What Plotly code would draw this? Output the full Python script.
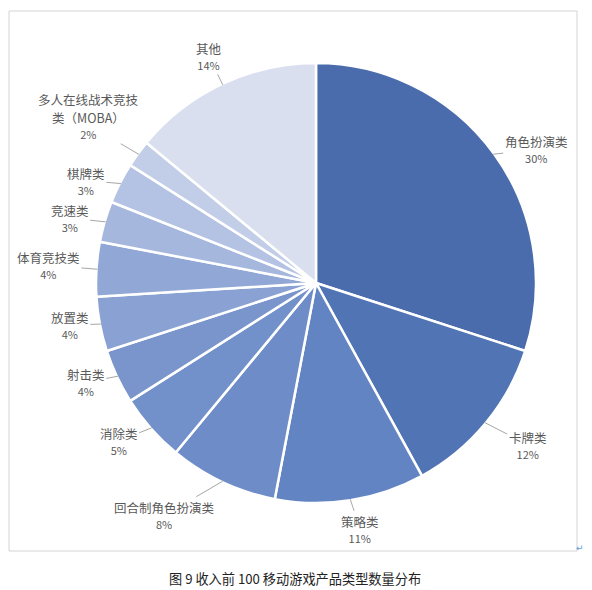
import math
import plotly.graph_objects as go

# ---- data ----
categories = ["角色扮演类", "卡牌类", "策略类", "回合制角色扮演类", "消除类", "射击类",
              "放置类", "体育竞技类", "竞速类", "棋牌类", "多人在线战术竞技<br>类（MOBA）", "其他"]
values = [30, 12, 11, 8, 5, 4, 4, 4, 3, 3, 2, 14]
caption = "图 9 收入前 100 移动游戏产品类型数量分布"

# ---- style ----
colors = ["#4a6bac", "#5174b4", "#6384c2", "#6e8dc8", "#7290c9", "#7995cc",
          "#8aa2d3", "#91a8d6", "#a6b7de", "#b4c2e3", "#c2cde8", "#d9dfef"]
# label offsets (pixels, from slice edge to text centre)
label_dx = [43, 43, 10, -58, -33, -32, -31, -49, -36, -35, -50, -14]
label_dy = [-5, 22, 30, 34, 13, 6, 1, -4, -4, -3, -29, -29]

W, H = 592, 590
OFF = 8  # page body margin
CX, CY, R = 316, 283, 220
LABEL_FONT = dict(family="Noto Sans CJK SC", size=12.5, color="#595959")


def px(x):
    return (x - OFF) / W


def py(y):
    return 1 - (y - OFF) / H


fig = go.Figure()
fig.add_trace(go.Pie(
    labels=categories, values=values, sort=False, direction="clockwise", rotation=0,
    marker=dict(colors=colors, line=dict(color="white", width=2.5)),
    textinfo="none", hoverinfo="label+percent", showlegend=False,
    domain=dict(x=[px(CX - R), px(CX + R)], y=[py(CY + R), py(CY - R)]),
))

total = sum(values)
cum = 0
for i, (cat, v) in enumerate(zip(categories, values)):
    mid = (cum + v / 2) / total * 2 * math.pi
    cum += v
    tip_x = CX + (R - 1) * math.sin(mid)
    tip_y = CY - (R - 1) * math.cos(mid)
    pct = round(v / total * 100)
    parts = cat.split("<br>")
    head, last = parts[:-1], parts[-1]
    fig.add_annotation(
        x=px(tip_x), y=py(tip_y), xref="paper", yref="paper",
        ax=label_dx[i], ay=label_dy[i], axref="pixel", ayref="pixel",
        text=f"{last}<br><span style='font-size:11px'>{pct}%</span>",
        showarrow=True, arrowhead=0, arrowwidth=1, arrowcolor="#a6a6a6",
        font=LABEL_FONT, align="center",
    )
    for k, h in enumerate(reversed(head)):
        fig.add_annotation(
            x=px(tip_x + label_dx[i]), y=py(tip_y + label_dy[i] - 26 - 18 * k),
            xref="paper", yref="paper", xanchor="center", yanchor="middle",
            text=h, showarrow=False, font=LABEL_FONT,
        )

# frame
fig.add_shape(type="rect", xref="paper", yref="paper",
              x0=px(9), x1=px(577), y0=py(551), y1=py(11),
              line=dict(color="#d4d4d4", width=1), layer="below")

fig.add_annotation(x=px(295), y=py(578), xref="paper", yref="paper",
                   xanchor="center", yanchor="middle",
                   text=caption, showarrow=False,
                   font=dict(family="Noto Sans CJK SC", size=13.2, color="#222222"))
fig.add_annotation(x=px(580), y=py(548), xref="paper", yref="paper",
                   xanchor="center", yanchor="middle",
                   text="↵", showarrow=False,
                   font=dict(family="DejaVu Sans", size=9, color="#5b9bd5"))

fig.update_layout(width=W, height=H, margin=dict(l=0, r=0, t=0, b=0),
                  paper_bgcolor="white", plot_bgcolor="white")
fig.write_html("out.html")
